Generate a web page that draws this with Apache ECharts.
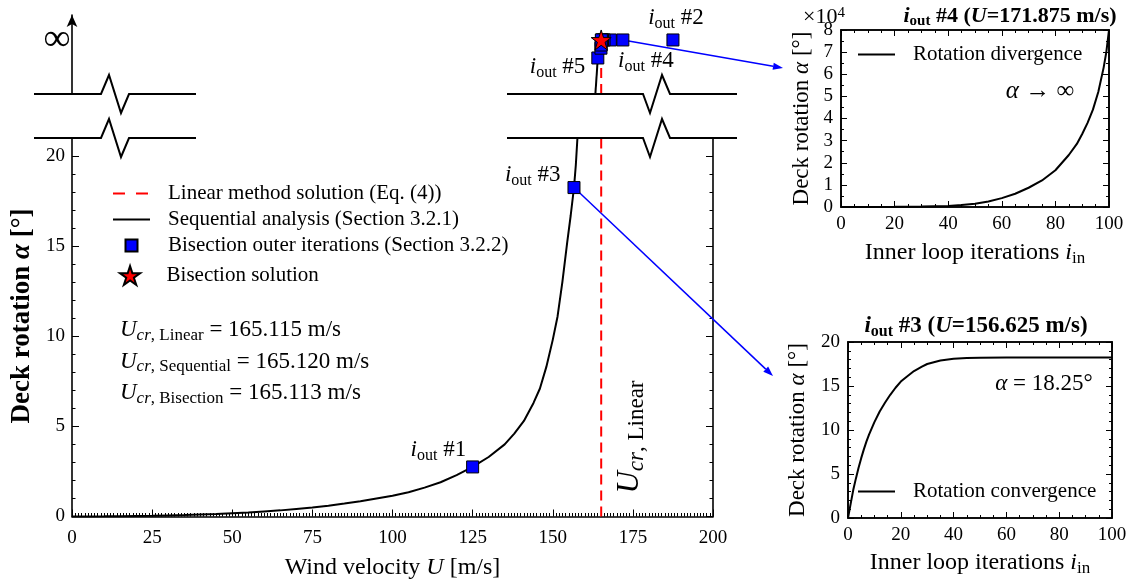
<!DOCTYPE html>
<html><head><meta charset="utf-8">
<script src="https://cdn.jsdelivr.net/npm/echarts@6/dist/echarts.min.js"></script>
<style>html,body{margin:0;padding:0;background:#fff}#c{width:1131px;height:585px}</style>
</head><body><div id="c"></div>
<script>
// ================= DATA =================
// Sequential analysis curve (main panel, alpha in degrees)
const seqU     = [0, 5, 10, 15, 20, 25, 30, 35, 40, 45, 50, 55, 60, 65, 70, 75, 80, 85, 90, 95, 100, 105, 110, 115, 120, 125, 130, 135, 138, 141, 144, 146, 148, 150, 151.5, 153, 154.5, 155.6, 156.625, 157.2, 157.7];
const seqAlpha = [0, 0.002, 0.01, 0.02, 0.03, 0.04, 0.06, 0.08, 0.11, 0.14, 0.18, 0.22, 0.28, 0.34, 0.42, 0.5, 0.6, 0.72, 0.85, 1.0, 1.15, 1.35, 1.6, 1.9, 2.3, 2.75, 3.3, 4.0, 4.6, 5.3, 6.3, 7.1, 8.3, 9.8, 11.1, 13.0, 15.2, 16.7, 18.25, 19.5, 21];
// continuation of the curve in the "beyond 20 deg" band (relative band level 0..1)
const seqUpperU     = [163.3, 164.0625];
const seqUpperLevel = [0, 0.456];
// Linear method solution
const linearU = 165.115;
// Bisection outer iterations shown in the main panel
const mainIterU      = [125, 156.625];
const mainIterAlpha  = [2.75, 18.25];
const mainIterLabels = ['#1', '#3'];
// Bisection outer iterations in the upper band (level 0..1 of the band)
const upperIterU      = [187.5, 171.875, 164.0625, 167.96875, 166.015625, 165.0390625, 165.52734375, 165.283203125, 165.1611328125, 165.10009765625];
const upperIterLevel  = [0.684, 0.684, 0.456, 0.684, 0.684, 0.58, 0.684, 0.684, 0.684, 0.62];
const upperIterLabels = ['#2', '#4', '#5', '', '', '', '', '', '', ''];
// Bisection solution
const solutionU = 165.113;
const solutionLevel = 0.684;
// Critical velocities text
const critNames  = ['Linear', 'Sequential', 'Bisection'];
const critValues = ['165.115', '165.120', '165.113'];
// Inset 1: rotation divergence (x10^4 deg), i_out #4
const divIter  = [0, 10, 20, 30, 40, 45, 50, 55, 60, 65, 70, 75, 80, 85, 88, 90, 92, 94, 96, 98, 99, 100];
const divAlpha = [0, 0.002, 0.006, 0.018, 0.05, 0.09, 0.15, 0.25, 0.4, 0.6, 0.87, 1.2, 1.66, 2.35, 2.85, 3.3, 3.8, 4.4, 5.2, 6.3, 7.0, 8];
// Inset 2: rotation convergence (deg), i_out #3
const convIter  = [0, 1, 2, 3, 4, 5, 6, 7, 8, 10, 12, 14, 16, 18, 20, 22, 25, 28, 30, 35, 40, 45, 50, 60, 100];
const convAlpha = [0, 1.6, 3.2, 4.5, 5.7, 6.8, 7.8, 8.7, 9.5, 10.9, 12.1, 13.1, 14.0, 14.8, 15.5, 16.0, 16.7, 17.2, 17.5, 17.9, 18.1, 18.17, 18.2, 18.25, 18.25];

// ================= STYLE / LAYOUT =================
const FONT = 'Liberation Serif';
const W = 1131, H = 585;
const MAIN = {l: 72, r: 713, t: 138, b: 521};
const UPPER = {t: 15, b: 94};
const IN1 = {l: 841, r: 1109, t: 30, b: 207};
const IN2 = {l: 848, r: 1112, t: 342, b: 518};
const BLUE = '#0000ff', RED = '#ff0000';
const SQUARE = 'path://M0,0 L10,0 L10,10 L0,10 Z';
const STAR = 'path://M50,2 L61.2,36.3 L97.6,36.3 L68.2,57.6 L79.4,91.9 L50,70.7 L20.6,91.9 L31.8,57.6 L2.4,36.3 L38.8,36.3 Z';
const SOLID_ICON = 'path://M0,0 L37,0 L37,2 L0,2 Z';
const DASH_ICON = 'path://M0,0 L12,0 L12,2 L0,2 Z M23,0 L35,0 L35,2 L23,2 Z M37,0 L37,2 L36.9,2 Z';

function rich(fs, bold, subRatio) {
  const w = bold ? 'bold' : 'normal';
  const s = Math.round(fs * (subRatio || 0.7));
  return {
    it:    {fontFamily: FONT, fontStyle: 'italic', fontSize: fs, fontWeight: w, color: '#000', lineHeight: Math.round(fs * 1.2)},
    sub:   {fontFamily: FONT, fontSize: s, fontWeight: w, verticalAlign: 'bottom', lineHeight: Math.round(fs * 0.5), color: '#000'},
    subit: {fontFamily: FONT, fontStyle: 'italic', fontSize: s, fontWeight: w, verticalAlign: 'bottom', lineHeight: Math.round(fs * 0.5), color: '#000'},
    sup:   {fontFamily: FONT, fontSize: s, fontWeight: w, verticalAlign: 'top', lineHeight: Math.round(fs * 0.5), color: '#000'}
  };
}
const labelPlacement = {
  '#1': {position: 'left', offset: [5, -17]},
  '#3': {position: 'left', offset: [-2, -13]},
  '#2': {position: 'top', offset: [3, 3]},
  '#4': {position: 'bottom', offset: [23, -5]},
  '#5': {position: 'left', offset: [-1, 9]}
};
function iterItems(us, vs, labels) {
  return us.map((u, i) => {
    const lab = labels[i];
    const item = {value: [u, vs[i]]};
    if (lab) {
      item.label = Object.assign({
        show: true, formatter: '{it|i}{sub|out} ' + lab,
        fontFamily: FONT, fontSize: 23, color: '#000', lineHeight: 27, rich: rich(23)
      }, labelPlacement[lab]);
    }
    return item;
  });
}
const tickTxt = {fontFamily: FONT, fontSize: 19, color: '#000'};
const axLine = () => ({show: true, onZero: false, lineStyle: {color: '#000', width: 1.6}});
const noLine = () => ({show: false, onZero: false});
const nameTxt = (fs) => ({fontFamily: FONT, fontSize: fs, color: '#000', rich: rich(fs)});
const legTxt = () => ({fontFamily: FONT, fontSize: 21, color: '#000', padding: [0, 0, 0, 13]});
const tick = (len) => ({inside: true, length: len, lineStyle: {color: '#000', width: 1}});
const minor = (n, len) => ({show: true, splitNumber: n, length: len, lineStyle: {color: '#000', width: 1}});
const frame = {show: true, borderColor: '#000', borderWidth: 1.6, backgroundColor: 'transparent'};

const chart = echarts.init(document.getElementById('c'), null, {renderer: 'canvas'});
const option = {
  backgroundColor: '#fff',
  animation: false,
  grid: [
    {left: MAIN.l, right: W - MAIN.r, top: MAIN.t, bottom: H - MAIN.b},
    {left: MAIN.l, right: W - MAIN.r, top: UPPER.t, bottom: H - UPPER.b},
    Object.assign({left: IN1.l, right: W - IN1.r, top: IN1.t, bottom: H - IN1.b}, frame),
    Object.assign({left: IN2.l, right: W - IN2.r, top: IN2.t, bottom: H - IN2.b}, frame),
    {left: IN1.l, right: W - IN1.r, top: IN1.t, bottom: H - IN1.b},
    {left: IN2.l, right: W - IN2.r, top: IN2.t, bottom: H - IN2.b}
  ],
  xAxis: [
    {gridIndex: 0, type: 'value', min: 0, max: 200, interval: 25, position: 'bottom',
     axisLine: axLine(), axisTick: tick(7), minorTick: minor(25, 3.5),
     axisLabel: Object.assign({margin: 12}, tickTxt), splitLine: {show: false},
     name: 'Wind velocity {it|U} [m/s]', nameLocation: 'middle', nameGap: 37, nameTextStyle: nameTxt(24)},
    {gridIndex: 1, type: 'value', min: 0, max: 200, show: false},
    {gridIndex: 2, type: 'value', min: 0, max: 100, interval: 20, position: 'bottom',
     axisLine: axLine(), axisTick: tick(6), minorTick: minor(4, 3),
     axisLabel: Object.assign({margin: 8}, tickTxt), splitLine: {show: false},
     name: 'Inner loop iterations {it|i}{sub|in}', nameLocation: 'middle', nameGap: 31, nameTextStyle: nameTxt(24)},
    {gridIndex: 4, type: 'value', min: 0, max: 100, interval: 20, position: 'top',
     axisLine: axLine(), axisTick: tick(6), minorTick: minor(4, 3),
     axisLabel: {show: false}, splitLine: {show: false}},
    {gridIndex: 3, type: 'value', min: 0, max: 100, interval: 20, position: 'bottom',
     axisLine: axLine(), axisTick: tick(6), minorTick: minor(4, 3),
     axisLabel: Object.assign({margin: 8}, tickTxt), splitLine: {show: false},
     name: 'Inner loop iterations {it|i}{sub|in}', nameLocation: 'middle', nameGap: 30, nameTextStyle: nameTxt(24)},
    {gridIndex: 5, type: 'value', min: 0, max: 100, interval: 20, position: 'top',
     axisLine: axLine(), axisTick: tick(6), minorTick: minor(4, 3),
     axisLabel: {show: false}, splitLine: {show: false}}
  ],
  yAxis: [
    {gridIndex: 0, type: 'value', min: 0, max: 21, interval: 5, position: 'left',
     axisLine: axLine(), axisTick: tick(7),
     axisLabel: Object.assign({margin: 7, showMaxLabel: false}, tickTxt), splitLine: {show: false}},
    {gridIndex: 0, type: 'value', min: 0, max: 21, interval: 1, position: 'left',
     axisLine: noLine(), axisTick: tick(3.5), axisLabel: {show: false}, splitLine: {show: false}},
    {gridIndex: 0, type: 'value', min: 0, max: 21, interval: 5, position: 'right',
     axisLine: axLine(), axisTick: tick(7), axisLabel: {show: false}, splitLine: {show: false}},
    {gridIndex: 0, type: 'value', min: 0, max: 21, interval: 1, position: 'right',
     axisLine: noLine(), axisTick: tick(3.5), axisLabel: {show: false}, splitLine: {show: false}},
    {gridIndex: 1, type: 'value', min: 0, max: 1, position: 'left',
     axisLine: {show: true, onZero: false, symbol: ['none', 'arrow'], symbolSize: [8, 12], lineStyle: {color: '#000', width: 1.6}},
     axisTick: {show: false}, axisLabel: {show: false}, splitLine: {show: false}},
    {gridIndex: 2, type: 'value', min: 0, max: 8, interval: 1, position: 'left',
     axisLine: axLine(), axisTick: tick(6), minorTick: minor(2, 3),
     axisLabel: Object.assign({margin: 8}, tickTxt), splitLine: {show: false},
     name: 'Deck rotation {it|α} [°]', nameLocation: 'middle', nameGap: 25, nameTextStyle: nameTxt(23)},
    {gridIndex: 4, type: 'value', min: 0, max: 8, interval: 1, position: 'right',
     axisLine: axLine(), axisTick: tick(6), minorTick: minor(2, 3),
     axisLabel: {show: false}, splitLine: {show: false}},
    {gridIndex: 3, type: 'value', min: 0, max: 20, interval: 5, position: 'left',
     axisLine: axLine(), axisTick: tick(6), minorTick: minor(5, 3),
     axisLabel: Object.assign({margin: 8}, tickTxt), splitLine: {show: false},
     name: 'Deck rotation {it|α} [°]', nameLocation: 'middle', nameGap: 36, nameTextStyle: nameTxt(23)},
    {gridIndex: 5, type: 'value', min: 0, max: 20, interval: 5, position: 'right',
     axisLine: axLine(), axisTick: tick(6), minorTick: minor(5, 3),
     axisLabel: {show: false}, splitLine: {show: false}}
  ],
  legend: [
    {orient: 'vertical', left: 113, top: 183, padding: 0, itemWidth: 37, itemHeight: 12, itemGap: 5, selectedMode: false,
     textStyle: legTxt(),
     data: [{name: 'Linear method solution (Eq. (4))', icon: DASH_ICON},
            {name: 'Sequential analysis (Section 3.2.1)', icon: SOLID_ICON},
            {name: 'Bisection outer iterations (Section 3.2.2)', icon: SQUARE}]},
    {orient: 'vertical', left: 119, top: 265, padding: 0, itemWidth: 37, itemHeight: 19, selectedMode: false,
     textStyle: legTxt(),
     data: [{name: 'Bisection solution', icon: STAR}]},
    {orient: 'vertical', left: 858, top: 44, padding: 0, itemWidth: 37, itemHeight: 14, selectedMode: false,
     textStyle: legTxt(),
     data: [{name: 'Rotation divergence', icon: SOLID_ICON}]},
    {orient: 'vertical', left: 858, top: 481, padding: 0, itemWidth: 37, itemHeight: 14, selectedMode: false,
     textStyle: legTxt(),
     data: [{name: 'Rotation convergence', icon: SOLID_ICON}]}
  ],
  series: [
    {name: 'Sequential analysis (Section 3.2.1)', type: 'line', xAxisIndex: 0, yAxisIndex: 0,
     data: seqU.map((u, i) => [u, seqAlpha[i]]), symbol: 'none',
     lineStyle: {color: '#000', width: 2}, itemStyle: {color: '#000'}, z: 3},
    {name: 'Linear method solution (Eq. (4))', type: 'line', xAxisIndex: 0, yAxisIndex: 0,
     data: [[linearU, 0], [linearU, 21]], symbol: 'none',
     lineStyle: {color: RED, width: 2, type: [10, 6]}, itemStyle: {color: RED}, z: 2},
    {name: 'Bisection outer iterations (Section 3.2.2)', type: 'scatter', xAxisIndex: 0, yAxisIndex: 0,
     data: iterItems(mainIterU, mainIterAlpha, mainIterLabels), symbol: 'rect', symbolSize: 12,
     itemStyle: {color: BLUE, borderColor: '#000', borderWidth: 1, opacity: 1}, z: 5},
    {name: 'Sequential analysis (Section 3.2.1)', type: 'line', xAxisIndex: 1, yAxisIndex: 4,
     data: seqUpperU.map((u, i) => [u, seqUpperLevel[i]]), symbol: 'none',
     lineStyle: {color: '#000', width: 2}, itemStyle: {color: '#000'}, z: 3},
    {name: 'Linear method solution (Eq. (4))', type: 'line', xAxisIndex: 1, yAxisIndex: 4,
     data: [[linearU, 0], [linearU, 0.35]], symbol: 'none',
     lineStyle: {color: RED, width: 2, type: [10, 6]}, itemStyle: {color: RED}, z: 2},
    {name: 'Bisection outer iterations (Section 3.2.2)', type: 'scatter', xAxisIndex: 1, yAxisIndex: 4,
     data: iterItems(upperIterU, upperIterLevel, upperIterLabels), symbol: 'rect', symbolSize: 12,
     itemStyle: {color: BLUE, borderColor: '#000', borderWidth: 1, opacity: 1}, z: 5, clip: false},
    {name: 'Bisection solution', type: 'scatter', xAxisIndex: 1, yAxisIndex: 4,
     data: [[solutionU, solutionLevel]], symbol: STAR, symbolSize: 20,
     itemStyle: {color: RED, borderColor: '#000', borderWidth: 1, opacity: 1}, z: 6, clip: false},
    {name: 'Rotation divergence', type: 'line', xAxisIndex: 2, yAxisIndex: 5,
     data: divIter.map((x, i) => [x, divAlpha[i]]), symbol: 'none',
     lineStyle: {color: '#000', width: 2}, itemStyle: {color: '#000'}},
    {name: 'Rotation convergence', type: 'line', xAxisIndex: 4, yAxisIndex: 7,
     data: convIter.map((x, i) => [x, convAlpha[i]]), symbol: 'none',
     lineStyle: {color: '#000', width: 2}, itemStyle: {color: '#000'}}
  ]
};
chart.setOption(option);

// ================= ANNOTATIONS =================
function breakLine(x0, x1, zx, y, upFirst) {
  const pts = upFirst
    ? [[x0, y], [zx, y], [zx + 8, y - 19], [zx + 20, y + 19], [zx + 28, y], [x1, y]]
    : [[x0, y], [zx, y], [zx + 7, y + 19], [zx + 19, y - 19], [zx + 27, y], [x1, y]];
  return {type: 'polyline', shape: {points: pts}, style: {stroke: '#000', lineWidth: 2, fill: null}, z: 10};
}
function arrow(p0, p1) {
  const ang = Math.atan2(p1[1] - p0[1], p1[0] - p0[0]);
  const L = 10, hw = 3.5;
  const bx = p1[0] - L * Math.cos(ang), by = p1[1] - L * Math.sin(ang);
  const nx = -Math.sin(ang), ny = Math.cos(ang);
  return [
    {type: 'line', shape: {x1: p0[0], y1: p0[1], x2: bx, y2: by}, style: {stroke: BLUE, lineWidth: 1.5}, z: 1},
    {type: 'polygon', shape: {points: [[p1[0], p1[1]], [bx + nx * hw, by + ny * hw], [bx - nx * hw, by - ny * hw]]},
     style: {fill: BLUE}, z: 1}
  ];
}
const p4 = chart.convertToPixel({seriesIndex: 5}, [upperIterU[1], upperIterLevel[1]]);
const p3 = chart.convertToPixel({seriesIndex: 2}, [mainIterU[1], mainIterAlpha[1]]);
const baseTxt = (fs, w) => ({fontFamily: FONT, fontSize: fs, fontWeight: w || 'normal', fill: '#000'});
const graphics = [
  breakLine(34, 196, 101, UPPER.b, true),
  breakLine(34, 196, 101, MAIN.t, true),
  breakLine(507, 737, 643, UPPER.b, false),
  breakLine(507, 737, 643, MAIN.t, false),
  ...arrow(p4, [IN1.l - 58, 68]),
  ...arrow(p3, [IN2.l - 75, 376]),
  {type: 'text', style: Object.assign(baseTxt(38), {x: 57, y: 40, text: '∞', align: 'center', verticalAlign: 'middle'})},
  {type: 'text', rotation: Math.PI / 2, x: 22, y: 316,
   style: Object.assign(baseTxt(27, 'bold'), {text: 'Deck rotation {it|α} [°]', align: 'center', verticalAlign: 'middle', rich: rich(27, true)})},
  {type: 'text', rotation: Math.PI / 2, x: 630, y: 437,
   style: Object.assign(baseTxt(31), {text: '{it|U}{subit|cr}{sub|, Linear}', align: 'center', verticalAlign: 'middle', rich: rich(31, false, 0.75)})},
  {type: 'text', style: Object.assign(baseTxt(22), {x: 824, y: 17, text: '×10{sup|4}', align: 'center', verticalAlign: 'middle', rich: rich(22)})},
  {type: 'text', style: Object.assign(baseTxt(22, 'bold'), {x: 1010, y: 16, text: '{it|i}{sub|out} #4 ({it|U}=171.875 m/s)', align: 'center', verticalAlign: 'middle', rich: rich(22, true)})},
  {type: 'text', style: Object.assign(baseTxt(23, 'bold'), {x: 976, y: 326, text: '{it|i}{sub|out} #3 ({it|U}=156.625 m/s)', align: 'center', verticalAlign: 'middle', rich: rich(23, true)})},
  {type: 'text', style: Object.assign(baseTxt(25), {x: 1040, y: 91, text: '{it|α} → ∞', align: 'center', verticalAlign: 'middle', rich: rich(25)})},
  {type: 'text', style: Object.assign(baseTxt(23), {x: 1044, y: 384, text: '{it|α} = 18.25°', align: 'center', verticalAlign: 'middle', rich: rich(23)})}
];
critNames.forEach((n, i) => {
  graphics.push({type: 'text', style: Object.assign(baseTxt(23), {
    x: 120, y: 330 + i * 31.5, align: 'left', verticalAlign: 'middle',
    text: '{it|U}{subit|cr}{sub|, ' + n + '} = ' + critValues[i] + ' m/s', rich: rich(23, false, 0.72)})});
});
chart.setOption({graphic: graphics});
</script>
</body></html>
